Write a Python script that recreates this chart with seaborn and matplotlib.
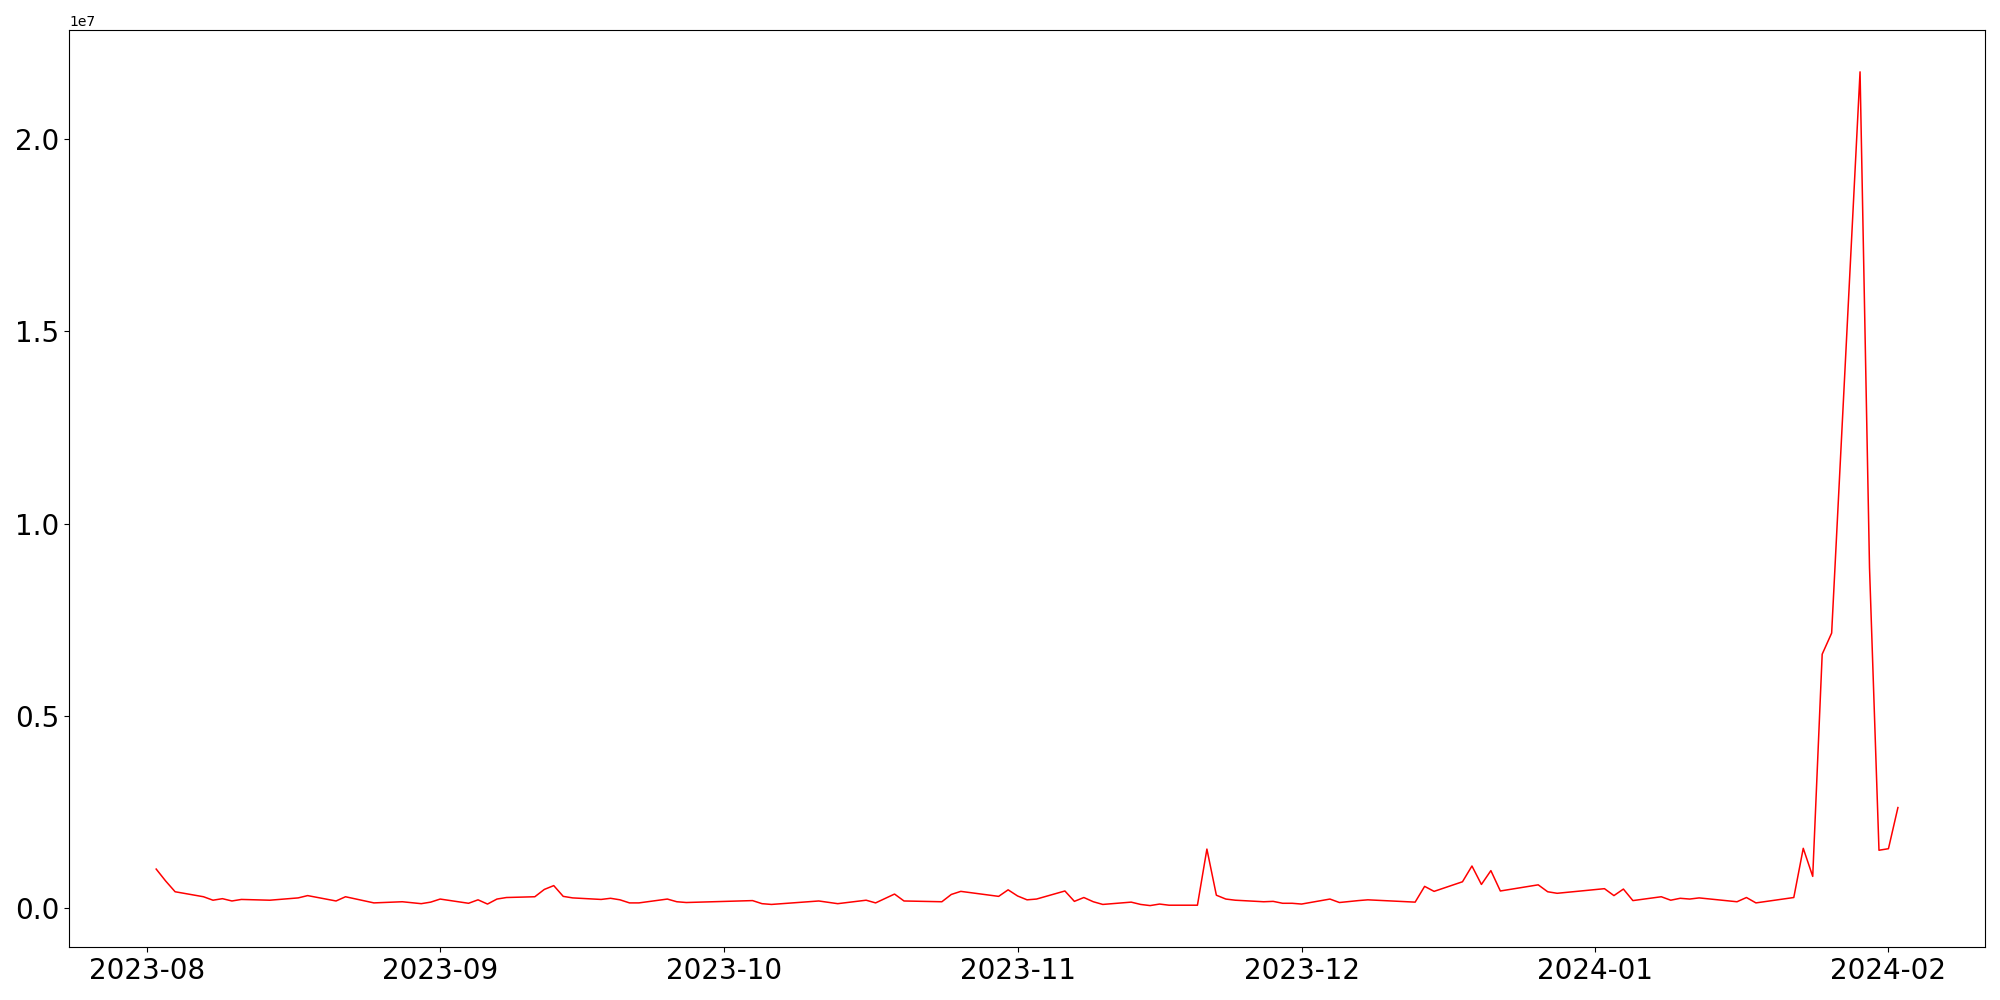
import matplotlib
matplotlib.use("Agg")
import matplotlib.pyplot as plt
import seaborn as sns
import pandas as pd

dates = [
    "2023-08-02", "2023-08-03", "2023-08-04", "2023-08-07", "2023-08-08", "2023-08-09",
    "2023-08-10", "2023-08-11", "2023-08-14", "2023-08-17", "2023-08-18", "2023-08-21",
    "2023-08-22", "2023-08-25", "2023-08-28", "2023-08-30", "2023-08-31", "2023-09-01",
    "2023-09-04", "2023-09-05", "2023-09-06", "2023-09-07", "2023-09-08", "2023-09-11",
    "2023-09-12", "2023-09-13", "2023-09-14", "2023-09-15", "2023-09-18", "2023-09-19",
    "2023-09-20", "2023-09-21", "2023-09-22", "2023-09-25", "2023-09-26", "2023-09-27",
    "2023-10-04", "2023-10-05", "2023-10-06", "2023-10-11", "2023-10-13", "2023-10-16",
    "2023-10-17", "2023-10-19", "2023-10-20", "2023-10-24", "2023-10-25", "2023-10-26",
    "2023-10-30", "2023-10-31", "2023-11-01", "2023-11-02", "2023-11-03", "2023-11-06",
    "2023-11-07", "2023-11-08", "2023-11-09", "2023-11-10", "2023-11-13", "2023-11-14",
    "2023-11-15", "2023-11-16", "2023-11-17", "2023-11-20", "2023-11-21", "2023-11-22",
    "2023-11-23", "2023-11-24", "2023-11-27", "2023-11-28", "2023-11-29", "2023-11-30",
    "2023-12-01", "2023-12-04", "2023-12-05", "2023-12-07", "2023-12-08", "2023-12-13",
    "2023-12-14", "2023-12-15", "2023-12-18", "2023-12-19", "2023-12-20", "2023-12-21",
    "2023-12-22", "2023-12-26", "2023-12-27", "2023-12-28", "2024-01-02", "2024-01-03",
    "2024-01-04", "2024-01-05", "2024-01-08", "2024-01-09", "2024-01-10", "2024-01-11",
    "2024-01-12", "2024-01-16", "2024-01-17", "2024-01-18", "2024-01-22", "2024-01-23",
    "2024-01-24", "2024-01-25", "2024-01-26", "2024-01-29", "2024-01-30", "2024-01-31",
    "2024-02-01", "2024-02-02",
]

values = [
    1.01e6, 0.70e6, 0.42e6, 0.29e6, 0.20e6, 0.24e6,
    0.18e6, 0.22e6, 0.20e6, 0.26e6, 0.32e6, 0.18e6,
    0.29e6, 0.13e6, 0.16e6, 0.11e6, 0.15e6, 0.23e6,
    0.12e6, 0.21e6, 0.10e6, 0.23e6, 0.27e6, 0.29e6,
    0.48e6, 0.58e6, 0.30e6, 0.26e6, 0.22e6, 0.25e6,
    0.21e6, 0.13e6, 0.13e6, 0.23e6, 0.16e6, 0.14e6,
    0.19e6, 0.11e6, 0.09e6, 0.18e6, 0.11e6, 0.20e6,
    0.13e6, 0.36e6, 0.18e6, 0.16e6, 0.35e6, 0.43e6,
    0.30e6, 0.47e6, 0.31e6, 0.21e6, 0.23e6, 0.44e6,
    0.17e6, 0.27e6, 0.16e6, 0.09e6, 0.15e6, 0.09e6,
    0.06e6, 0.10e6, 0.07e6, 0.07e6, 1.53e6, 0.33e6,
    0.23e6, 0.20e6, 0.16e6, 0.17e6, 0.12e6, 0.12e6,
    0.10e6, 0.23e6, 0.14e6, 0.19e6, 0.21e6, 0.15e6,
    0.56e6, 0.43e6, 0.68e6, 1.09e6, 0.61e6, 0.97e6,
    0.44e6, 0.60e6, 0.42e6, 0.38e6, 0.50e6, 0.32e6,
    0.49e6, 0.19e6, 0.29e6, 0.20e6, 0.25e6, 0.23e6,
    0.26e6, 0.16e6, 0.27e6, 0.13e6, 0.27e6, 1.55e6,
    0.82e6, 6.60e6, 7.15e6, 21.75e6, 8.85e6, 1.50e6,
    1.54e6, 2.61e6,
]

df = pd.DataFrame({"date": pd.to_datetime(dates), "value": values})

fig, ax = plt.subplots(figsize=(20, 10), dpi=100)
sns.lineplot(data=df, x="date", y="value", color="red", linewidth=1.1, ax=ax)
ax.set_xlabel("")
ax.set_ylabel("")
ax.tick_params(axis="both", labelsize=20)
fig.tight_layout()
fig.savefig("out.png", dpi=100)
